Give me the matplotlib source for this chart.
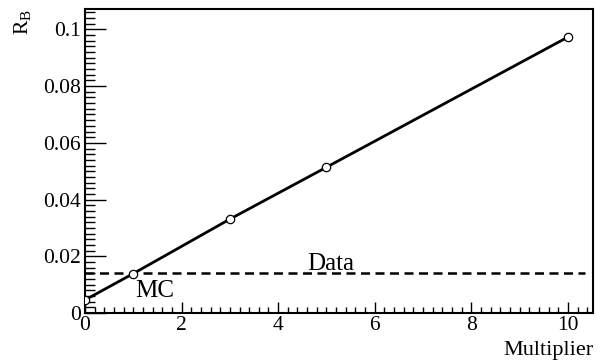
import matplotlib
matplotlib.use("Agg")
import matplotlib.pyplot as plt
from matplotlib.ticker import MultipleLocator

multiplier = [0, 1, 3, 5, 10]
rb_mc = [0.0046, 0.0139, 0.0331, 0.0514, 0.0973]
data_level = 0.0140
data_x = [0, 10.35]

plt.rcParams['font.family'] = ['Liberation Serif', 'DejaVu Serif']
plt.rcParams['mathtext.fontset'] = 'custom'
plt.rcParams['mathtext.rm'] = 'Liberation Serif'

fig = plt.figure(figsize=(6, 3.6), dpi=100)
ax = fig.add_axes([85/600, 1-313/360, (593-85)/600, (313-9)/360])

ax.plot(multiplier, rb_mc, color='black', lw=2.0, marker='o', ms=6,
        mfc='white', mec='black', mew=0.9, zorder=3)
ax.plot(data_x, [data_level, data_level], color='black', lw=1.8,
        dashes=(3.6, 2.2), zorder=2)

ax.text(4.6, 0.0150, 'Data', fontsize=18, ha='left', va='baseline')
ax.text(1.03, 0.0058, 'MC', fontsize=18, ha='left', va='baseline')

ax.set_xlim(0, 10.52)
ax.set_ylim(0, 0.1072)

ax.xaxis.set_major_locator(MultipleLocator(2))
ax.xaxis.set_minor_locator(MultipleLocator(0.2))
ax.yaxis.set_major_locator(MultipleLocator(0.02))
ax.yaxis.set_minor_locator(MultipleLocator(0.002))

def fmt_x(v, pos):
    return '%g' % v
def fmt_y(v, pos):
    return '%g' % round(v, 4)
ax.xaxis.set_major_formatter(plt.FuncFormatter(fmt_x))
ax.yaxis.set_major_formatter(plt.FuncFormatter(fmt_y))

ax.tick_params(axis='both', which='both', direction='in', top=False, right=False,
               labelsize=15.5)
ax.tick_params(axis='x', which='major', length=8, width=1, pad=2)
ax.tick_params(axis='x', which='minor', length=4, width=1)
ax.tick_params(axis='y', which='major', length=15, width=1, pad=3)
ax.tick_params(axis='y', which='minor', length=7, width=1)

for s in ax.spines.values():
    s.set_linewidth(1.5)
    s.set_color('black')

fig.text(593/600, 1-350/360, 'Multiplier', fontsize=16, ha='right', va='center')
fig.text(23/600, 1-9/360, r'R$_\mathregular{B}$', fontsize=15.5, rotation=90,
         ha='center', va='top')

fig.savefig('out.png', dpi=100)
